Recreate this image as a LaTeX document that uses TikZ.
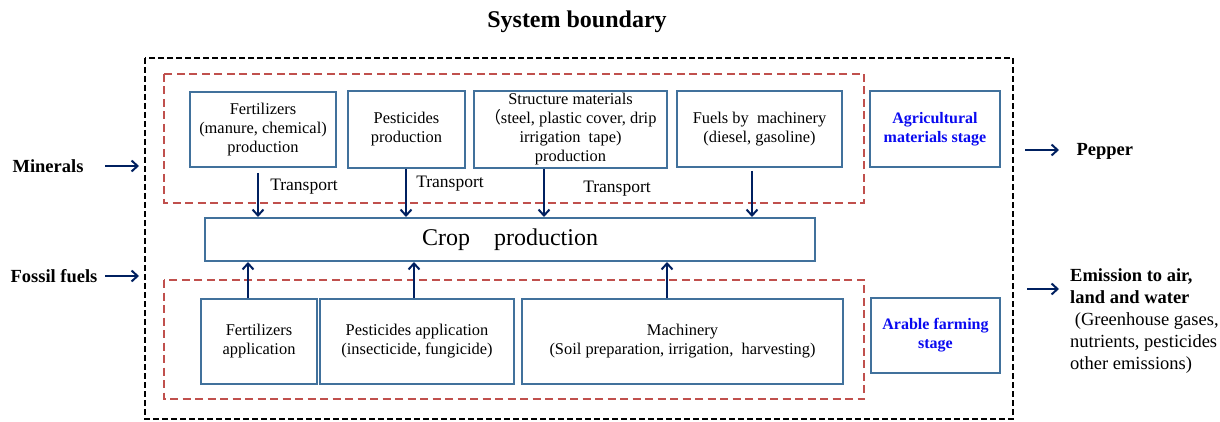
\documentclass[tikz,border=0pt]{standalone}
\usepackage{fontspec}
\setmainfont{Liberation Serif}
\newfontfamily\cjk{Noto Sans CJK SC}
\usetikzlibrary{arrows.meta}
\definecolor{boxblue}{RGB}{65,113,156}
\definecolor{navy}{RGB}{0,32,96}
\definecolor{dashred}{RGB}{192,80,77}
\definecolor{stageblue}{RGB}{10,10,240}
\begin{document}
\begin{tikzpicture}[x=1pt,y=-1pt,
  box/.style={draw=boxblue,line width=2pt,inner sep=0pt,align=center,
    font=\fontsize{16.4}{19}\selectfont},
  stagebox/.style={box,text=stageblue,font=\fontsize{16}{19}\selectfont\bfseries},
  arr/.style={draw=navy,line width=2pt,-{Straight Barb[length=6pt,width=11pt]}},
  reddash/.style={draw=dashred,line width=2pt,dash pattern=on 8pt off 4.5pt},
  blackdash/.style={draw=black,line width=2.5pt,dash pattern=on 6pt off 3pt},
  side/.style={font=\fontsize{18.5}{22}\selectfont\bfseries},
  trans/.style={font=\fontsize{17.5}{20}\selectfont}]
\useasboundingbox (0,0) rectangle (1220,422);
% title
\node[font=\fontsize{24}{28}\selectfont\bfseries] (title) at (577,22) {System boundary};
% outer boundary and stage frames
\draw[blackdash] (145,58) rectangle (1013,419);
\draw[reddash] (164,74) rectangle (864,203);
\draw[reddash] (164,280) rectangle (864,399);
% top boxes
\node[box,minimum width=146,minimum height=75] (fert) at (263,129.5)
  {Fertilizers\\(manure, chemical)\\production};
\node[box,minimum width=117,minimum height=77] (pest) at (406.5,129.5)
  {Pesticides\\production};
\node[box,minimum width=193,minimum height=77] (struct) at (570.5,129.5)
  {Structure materials\\{\cjk（}steel, plastic cover, drip\\irrigation\ \ tape)\\production};
\node[box,minimum width=165,minimum height=76] (fuel) at (759.5,129.5)
  {Fuels by\ \ machinery\\(diesel, gasoline)};
\node[stagebox,minimum width=130,minimum height=76] (agri) at (935,129)
  {Agricultural\\materials stage};
% crop production
\node[box,minimum width=610,minimum height=43,font=\fontsize{24}{28}\selectfont] (crop) at (510,239.5)
  {Crop\quad production};
% bottom boxes
\node[box,minimum width=116,minimum height=85] (fapp) at (259,341.5)
  {Fertilizers\\application};
\node[box,minimum width=194,minimum height=85] (papp) at (417,341.5)
  {Pesticides application\\(insecticide, fungicide)};
\node[box,minimum width=321,minimum height=85] (mach) at (682.5,341.5)
  {Machinery\\(Soil preparation, irrigation,\ \ harvesting)};
\node[stagebox,minimum width=129,minimum height=75] (arable) at (935.5,335.5)
  {Arable farming\\stage};
% down arrows
\coordinate (f1) at (258,173);
\draw[arr] (f1) -- (258,0 |- crop.north);
\draw[arr] (pest.south -| 406,0) -- (406,0 |- crop.north);
\draw[arr] (struct.south -| 544,0) -- (544,0 |- crop.north);
\coordinate (u1) at (752,171);
\draw[arr] (u1) -- (752,0 |- crop.north);
% transport labels
\node[trans] (t1) at (304,187) {Transport};
\node[trans] (t2) at (450,184) {Transport};
\node[trans] (t3) at (617,189) {Transport};
% up arrows
\draw[arr] (fapp.north -| 248,0) -- (248,0 |- crop.south);
\draw[arr] (papp.north -| 414,0) -- (414,0 |- crop.south);
\draw[arr] (mach.north -| 667,0) -- (667,0 |- crop.south);
% left inputs
\node[side] (min) at (48,166) {Minerals};
\node[side] (fos) at (54,276) {Fossil fuels};
\coordinate (m1) at (105,166);
\coordinate (m2) at (139,166);
\coordinate (ff1) at (105,276);
\coordinate (ff2) at (139,276);
\draw[arr] (m1) -- (m2);
\draw[arr] (ff1) -- (ff2);
% right outputs
\node[side,anchor=west] (pep) at (1073,151) {Pepper};
\coordinate (p1) at (1025,150);
\coordinate (e1) at (1027,289);
\draw[arr] (p1) -- (1059,150);
\draw[arr] (e1) -- (1059,289);
\node[anchor=north west,align=left,inner sep=0pt,font=\fontsize{18.5}{22}\selectfont] (emis) at (1070,268)
  {\textbf{Emission\ to air,}\\\textbf{land and water}\\\ (Greenhouse\ gases,\\nutrients,\ pesticides\\other emissions)};
\end{tikzpicture}
\end{document}
